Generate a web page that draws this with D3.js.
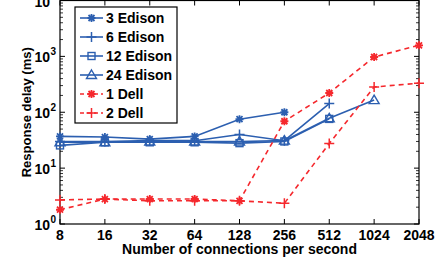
<!DOCTYPE html>
<html>
<head>
<meta charset="utf-8">
<script src="https://cdn.jsdelivr.net/npm/d3@7"></script>
<style>
  body { margin: 0; background: #fff; }
  svg { display: block; font-family: "Liberation Sans", Arial, sans-serif; font-weight: bold; }
</style>
</head>
<body>
<svg id="chart" width="445" height="261"></svg>
<script>
// connections per second (x categories)
var rates = [8, 16, 32, 64, 128, 256, 512, 1024, 2048];
var yTicks = [1, 10, 100, 1000, 10000];

// response delay in ms
var edison3 = [37, 36, 33, 37, 75, 100];
var edison6 = [30, 30, 31, 31, 40, 31, 143];
var edison12 = [25.5, 29, 29, 29, 28, 30, 76];
var edison24 = [29, 29, 30, 30, 30, 31, 78, 165];
var dell1 = [1.8, 2.8, 2.8, 2.8, 2.6, 69, 221, 975, 1580];
var dell2 = [2.7, 2.8, 2.6, 2.6, 2.6, 2.35, 27.6, 283, 332];

var blue = "#2c5fb0", red = "#f5282d";
var series = [
  { name: "3 Edison", values: edison3, color: blue, marker: "asterisk", dash: null },
  { name: "6 Edison", values: edison6, color: blue, marker: "plus", dash: null },
  { name: "12 Edison", values: edison12, color: blue, marker: "square", dash: null },
  { name: "24 Edison", values: edison24, color: blue, marker: "triangle", dash: null },
  { name: "1 Dell", values: dell1, color: red, marker: "asterisk", dash: "5,4" },
  { name: "2 Dell", values: dell2, color: red, marker: "plus", dash: "5,4" }
];

var svg = d3.select("#chart");
// note: "top" is window.top, so use plot* names
var plotLeft = 60, plotRight = 419, plotTop = 0.5, plotBottom = 224;

var x = d3.scaleLog().base(2).domain([8, 2048]).range([plotLeft, plotRight]);
var y = d3.scaleLog().domain([1, 10000]).range([plotBottom, plotTop]);

// frame
svg.append("rect")
  .attr("x", plotLeft).attr("y", plotTop)
  .attr("width", plotRight - plotLeft).attr("height", plotBottom - plotTop)
  .attr("fill", "none").attr("stroke", "#000").attr("stroke-width", 1.2);

// x ticks (inward, bottom + top)
rates.forEach(function(r) {
  var px = x(r);
  svg.append("line").attr("x1", px).attr("x2", px).attr("y1", plotBottom).attr("y2", plotBottom - 5)
    .attr("stroke", "#000").attr("stroke-width", 1);
  svg.append("line").attr("x1", px).attr("x2", px).attr("y1", plotTop).attr("y2", plotTop + 5)
    .attr("stroke", "#000").attr("stroke-width", 1);
  svg.append("text").attr("x", px).attr("y", 239.5)
    .attr("text-anchor", "middle").attr("font-size", 14).text(r);
});

// y ticks: major + minor, inward on both sides
var minor = [];
for (var d = 1; d < 10000; d *= 10) {
  for (var k = 2; k < 10; k++) minor.push(d * k);
}
minor.forEach(function(v) {
  var py = y(v);
  svg.append("line").attr("x1", plotLeft).attr("x2", plotLeft + 3).attr("y1", py).attr("y2", py)
    .attr("stroke", "#000").attr("stroke-width", 0.8);
  svg.append("line").attr("x1", plotRight).attr("x2", plotRight - 3).attr("y1", py).attr("y2", py)
    .attr("stroke", "#000").attr("stroke-width", 0.8);
});
yTicks.forEach(function(v) {
  var py = y(v);
  svg.append("line").attr("x1", plotLeft).attr("x2", plotLeft + 5).attr("y1", py).attr("y2", py)
    .attr("stroke", "#000").attr("stroke-width", 1);
  svg.append("line").attr("x1", plotRight).attr("x2", plotRight - 5).attr("y1", py).attr("y2", py)
    .attr("stroke", "#000").attr("stroke-width", 1);
  svg.append("text").attr("x", 50).attr("y", py + 6)
    .attr("text-anchor", "end").attr("font-size", 14).text("10");
  svg.append("text").attr("x", 50.5).attr("y", py - 1)
    .attr("font-size", 10).text(Math.round(Math.log10(v)));
});

// axis titles
svg.append("text").attr("x", (plotLeft + plotRight) / 2).attr("y", 254)
  .attr("text-anchor", "middle").attr("font-size", 14).text("Number of connections per second");
svg.append("text").attr("transform", "translate(31," + (plotBottom + plotTop) / 2 + ") rotate(-90)")
  .attr("text-anchor", "middle").attr("font-size", 13).text("Response delay (ms)");

function drawMarker(g, type, cx, cy, color) {
  if (type === "asterisk") {
    var s = 4, t = 3;
    var p = "M" + (cx - s) + "," + cy + "H" + (cx + s) +
      "M" + cx + "," + (cy - s) + "V" + (cy + s) +
      "M" + (cx - t) + "," + (cy - t) + "L" + (cx + t) + "," + (cy + t) +
      "M" + (cx - t) + "," + (cy + t) + "L" + (cx + t) + "," + (cy - t);
    g.append("path").attr("d", p).attr("stroke", color).attr("stroke-width", 1.8).attr("fill", "none");
  } else if (type === "plus") {
    var p2 = "M" + (cx - 5) + "," + cy + "H" + (cx + 5) + "M" + cx + "," + (cy - 5) + "V" + (cy + 5);
    g.append("path").attr("d", p2).attr("stroke", color).attr("stroke-width", 1.5).attr("fill", "none");
  } else if (type === "square") {
    g.append("rect").attr("x", cx - 3.5).attr("y", cy - 3.5).attr("width", 7).attr("height", 7)
      .attr("stroke", color).attr("stroke-width", 1.4).attr("fill", "none");
  } else if (type === "triangle") {
    var p3 = "M" + cx + "," + (cy - 5) + "L" + (cx + 5) + "," + (cy + 3.5) + "L" + (cx - 5) + "," + (cy + 3.5) + "Z";
    g.append("path").attr("d", p3).attr("stroke", color).attr("stroke-width", 1.4).attr("fill", "none");
  }
}

var line = d3.line()
  .x(function(d, i) { return x(rates[i]); })
  .y(function(d) { return y(d); });

series.forEach(function(s) {
  var g = svg.append("g");
  g.append("path").attr("d", line(s.values))
    .attr("fill", "none").attr("stroke", s.color).attr("stroke-width", 1.6)
    .attr("stroke-dasharray", s.dash);
  s.values.forEach(function(v, i) {
    drawMarker(g, s.marker, x(rates[i]), y(v), s.color);
  });
});

// legend
var lg = svg.append("g");
lg.append("rect").attr("x", 75).attr("y", 7).attr("width", 102).attr("height", 116)
  .attr("fill", "#fff").attr("stroke", "#000").attr("stroke-width", 1.2);
series.forEach(function(s, i) {
  var ly = 18 + i * 19;
  lg.append("line").attr("x1", 80).attr("x2", 103).attr("y1", ly).attr("y2", ly)
    .attr("stroke", s.color).attr("stroke-width", 1.6).attr("stroke-dasharray", s.dash ? "4,3" : null);
  drawMarker(lg, s.marker, 91.5, ly, s.color);
  lg.append("text").attr("x", 106).attr("y", ly + 5).attr("font-size", 14).text(s.name);
});
</script>
</body>
</html>
